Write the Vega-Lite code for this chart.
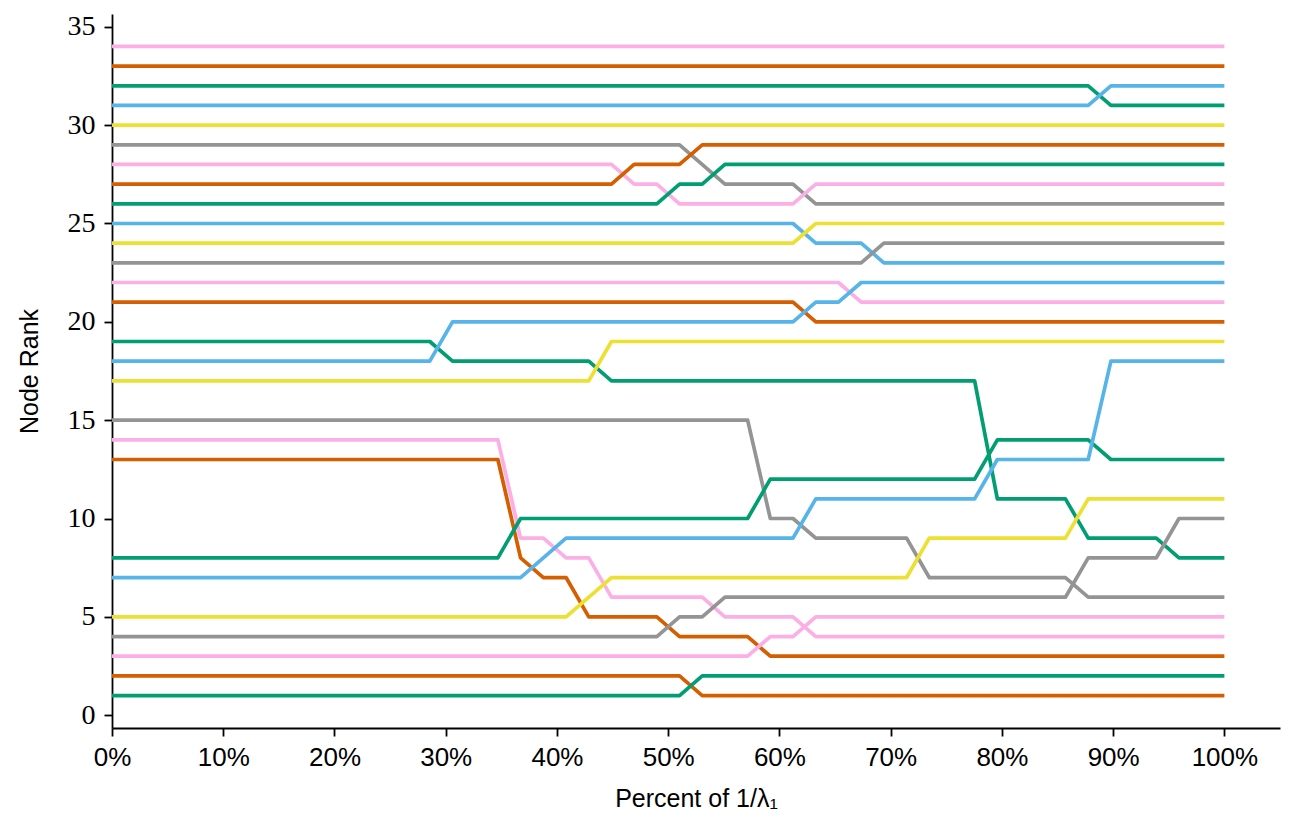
{
  "$schema": "https://vega.github.io/schema/vega-lite/v6.json",
  "width": 1168,
  "height": 714,
  "autosize": {"type": "none"},
  "padding": {"left": 112, "top": 14, "right": 18, "bottom": 94},
  "background": "white",
  "config": {"view": {"stroke": null}},
  "data": {"values": [
    {"node": "34", "x": 0, "rank": 34}, {"node": "34", "x": 1, "rank": 34},
    {"node": "33", "x": 0, "rank": 33}, {"node": "33", "x": 1, "rank": 33},
    {"node": "32", "x": 0, "rank": 32}, {"node": "32", "x": 0.8776, "rank": 32}, {"node": "32", "x": 0.8980, "rank": 31}, {"node": "32", "x": 1, "rank": 31},
    {"node": "31", "x": 0, "rank": 31}, {"node": "31", "x": 0.8776, "rank": 31}, {"node": "31", "x": 0.8980, "rank": 32}, {"node": "31", "x": 1, "rank": 32},
    {"node": "30", "x": 0, "rank": 30}, {"node": "30", "x": 1, "rank": 30},
    {"node": "29", "x": 0, "rank": 29}, {"node": "29", "x": 0.5102, "rank": 29}, {"node": "29", "x": 0.5510, "rank": 27}, {"node": "29", "x": 0.6122, "rank": 27}, {"node": "29", "x": 0.6327, "rank": 26}, {"node": "29", "x": 1, "rank": 26},
    {"node": "28", "x": 0, "rank": 28}, {"node": "28", "x": 0.4490, "rank": 28}, {"node": "28", "x": 0.4694, "rank": 27}, {"node": "28", "x": 0.4898, "rank": 27}, {"node": "28", "x": 0.5102, "rank": 26}, {"node": "28", "x": 0.6122, "rank": 26}, {"node": "28", "x": 0.6327, "rank": 27}, {"node": "28", "x": 1, "rank": 27},
    {"node": "27", "x": 0, "rank": 27}, {"node": "27", "x": 0.4490, "rank": 27}, {"node": "27", "x": 0.4694, "rank": 28}, {"node": "27", "x": 0.5102, "rank": 28}, {"node": "27", "x": 0.5306, "rank": 29}, {"node": "27", "x": 1, "rank": 29},
    {"node": "26", "x": 0, "rank": 26}, {"node": "26", "x": 0.4898, "rank": 26}, {"node": "26", "x": 0.5102, "rank": 27}, {"node": "26", "x": 0.5306, "rank": 27}, {"node": "26", "x": 0.5510, "rank": 28}, {"node": "26", "x": 1, "rank": 28},
    {"node": "25", "x": 0, "rank": 25}, {"node": "25", "x": 0.6122, "rank": 25}, {"node": "25", "x": 0.6327, "rank": 24}, {"node": "25", "x": 0.6735, "rank": 24}, {"node": "25", "x": 0.6939, "rank": 23}, {"node": "25", "x": 1, "rank": 23},
    {"node": "24", "x": 0, "rank": 24}, {"node": "24", "x": 0.6122, "rank": 24}, {"node": "24", "x": 0.6327, "rank": 25}, {"node": "24", "x": 1, "rank": 25},
    {"node": "23", "x": 0, "rank": 23}, {"node": "23", "x": 0.6735, "rank": 23}, {"node": "23", "x": 0.6939, "rank": 24}, {"node": "23", "x": 1, "rank": 24},
    {"node": "22", "x": 0, "rank": 22}, {"node": "22", "x": 0.6531, "rank": 22}, {"node": "22", "x": 0.6735, "rank": 21}, {"node": "22", "x": 1, "rank": 21},
    {"node": "21", "x": 0, "rank": 21}, {"node": "21", "x": 0.6122, "rank": 21}, {"node": "21", "x": 0.6327, "rank": 20}, {"node": "21", "x": 1, "rank": 20},
    {"node": "19", "x": 0, "rank": 19}, {"node": "19", "x": 0.2857, "rank": 19}, {"node": "19", "x": 0.3061, "rank": 18}, {"node": "19", "x": 0.4286, "rank": 18}, {"node": "19", "x": 0.4490, "rank": 17}, {"node": "19", "x": 0.7755, "rank": 17}, {"node": "19", "x": 0.7959, "rank": 11}, {"node": "19", "x": 0.8571, "rank": 11}, {"node": "19", "x": 0.8776, "rank": 9}, {"node": "19", "x": 0.9388, "rank": 9}, {"node": "19", "x": 0.9592, "rank": 8}, {"node": "19", "x": 1, "rank": 8},
    {"node": "18", "x": 0, "rank": 18}, {"node": "18", "x": 0.2857, "rank": 18}, {"node": "18", "x": 0.3061, "rank": 20}, {"node": "18", "x": 0.6122, "rank": 20}, {"node": "18", "x": 0.6327, "rank": 21}, {"node": "18", "x": 0.6531, "rank": 21}, {"node": "18", "x": 0.6735, "rank": 22}, {"node": "18", "x": 1, "rank": 22},
    {"node": "17", "x": 0, "rank": 17}, {"node": "17", "x": 0.4286, "rank": 17}, {"node": "17", "x": 0.4490, "rank": 19}, {"node": "17", "x": 1, "rank": 19},
    {"node": "15", "x": 0, "rank": 15}, {"node": "15", "x": 0.5714, "rank": 15}, {"node": "15", "x": 0.5918, "rank": 10}, {"node": "15", "x": 0.6122, "rank": 10}, {"node": "15", "x": 0.6327, "rank": 9}, {"node": "15", "x": 0.7143, "rank": 9}, {"node": "15", "x": 0.7347, "rank": 7}, {"node": "15", "x": 0.8571, "rank": 7}, {"node": "15", "x": 0.8776, "rank": 6}, {"node": "15", "x": 1, "rank": 6},
    {"node": "14", "x": 0, "rank": 14}, {"node": "14", "x": 0.3469, "rank": 14}, {"node": "14", "x": 0.3673, "rank": 9}, {"node": "14", "x": 0.3878, "rank": 9}, {"node": "14", "x": 0.4082, "rank": 8}, {"node": "14", "x": 0.4286, "rank": 8}, {"node": "14", "x": 0.4490, "rank": 6}, {"node": "14", "x": 0.5306, "rank": 6}, {"node": "14", "x": 0.5510, "rank": 5}, {"node": "14", "x": 0.6122, "rank": 5}, {"node": "14", "x": 0.6327, "rank": 4}, {"node": "14", "x": 1, "rank": 4},
    {"node": "13", "x": 0, "rank": 13}, {"node": "13", "x": 0.3469, "rank": 13}, {"node": "13", "x": 0.3673, "rank": 8}, {"node": "13", "x": 0.3878, "rank": 7}, {"node": "13", "x": 0.4082, "rank": 7}, {"node": "13", "x": 0.4286, "rank": 5}, {"node": "13", "x": 0.4898, "rank": 5}, {"node": "13", "x": 0.5102, "rank": 4}, {"node": "13", "x": 0.5714, "rank": 4}, {"node": "13", "x": 0.5918, "rank": 3}, {"node": "13", "x": 1, "rank": 3},
    {"node": "8", "x": 0, "rank": 8}, {"node": "8", "x": 0.3469, "rank": 8}, {"node": "8", "x": 0.3673, "rank": 10}, {"node": "8", "x": 0.5714, "rank": 10}, {"node": "8", "x": 0.5918, "rank": 12}, {"node": "8", "x": 0.7755, "rank": 12}, {"node": "8", "x": 0.7959, "rank": 14}, {"node": "8", "x": 0.8776, "rank": 14}, {"node": "8", "x": 0.8980, "rank": 13}, {"node": "8", "x": 1, "rank": 13},
    {"node": "7", "x": 0, "rank": 7}, {"node": "7", "x": 0.3673, "rank": 7}, {"node": "7", "x": 0.4082, "rank": 9}, {"node": "7", "x": 0.6122, "rank": 9}, {"node": "7", "x": 0.6327, "rank": 11}, {"node": "7", "x": 0.7755, "rank": 11}, {"node": "7", "x": 0.7959, "rank": 13}, {"node": "7", "x": 0.8776, "rank": 13}, {"node": "7", "x": 0.8980, "rank": 18}, {"node": "7", "x": 1, "rank": 18},
    {"node": "5", "x": 0, "rank": 5}, {"node": "5", "x": 0.4082, "rank": 5}, {"node": "5", "x": 0.4490, "rank": 7}, {"node": "5", "x": 0.7143, "rank": 7}, {"node": "5", "x": 0.7347, "rank": 9}, {"node": "5", "x": 0.8571, "rank": 9}, {"node": "5", "x": 0.8776, "rank": 11}, {"node": "5", "x": 1, "rank": 11},
    {"node": "4", "x": 0, "rank": 4}, {"node": "4", "x": 0.4898, "rank": 4}, {"node": "4", "x": 0.5102, "rank": 5}, {"node": "4", "x": 0.5306, "rank": 5}, {"node": "4", "x": 0.5510, "rank": 6}, {"node": "4", "x": 0.8571, "rank": 6}, {"node": "4", "x": 0.8776, "rank": 8}, {"node": "4", "x": 0.9388, "rank": 8}, {"node": "4", "x": 0.9592, "rank": 10}, {"node": "4", "x": 1, "rank": 10},
    {"node": "3", "x": 0, "rank": 3}, {"node": "3", "x": 0.5714, "rank": 3}, {"node": "3", "x": 0.5918, "rank": 4}, {"node": "3", "x": 0.6122, "rank": 4}, {"node": "3", "x": 0.6327, "rank": 5}, {"node": "3", "x": 1, "rank": 5},
    {"node": "2", "x": 0, "rank": 2}, {"node": "2", "x": 0.5102, "rank": 2}, {"node": "2", "x": 0.5306, "rank": 1}, {"node": "2", "x": 1, "rank": 1},
    {"node": "1", "x": 0, "rank": 1}, {"node": "1", "x": 0.5102, "rank": 1}, {"node": "1", "x": 0.5306, "rank": 2}, {"node": "1", "x": 1, "rank": 2}
  ]},
  "mark": {"type": "line", "strokeWidth": 3.7, "strokeCap": "butt", "strokeJoin": "round", "clip": true},
  "encoding": {
    "x": {
      "field": "x", "type": "quantitative",
      "scale": {"domain": [0, 1.05], "nice": false, "zero": false},
      "axis": {
        "values": [0, 0.1, 0.2, 0.3, 0.4, 0.5, 0.6, 0.7, 0.8, 0.9, 1.0],
        "format": ".0%",
        "grid": false,
        "labelFlush": false,
        "domainColor": "black", "domainWidth": 1.8,
        "tickColor": "black", "tickWidth": 1.8, "tickSize": 8,
        "labelFont": "Liberation Sans", "labelFontSize": 26, "labelColor": "black", "labelPadding": 8,
        "title": "Percent of 1/λ₁",
        "titleFont": "Liberation Sans", "titleFontSize": 25, "titleFontWeight": "normal", "titleColor": "black", "titlePadding": 16
      }
    },
    "y": {
      "field": "rank", "type": "quantitative",
      "scale": {"domain": [-0.65, 35.65], "nice": false, "zero": false},
      "axis": {
        "values": [0, 5, 10, 15, 20, 25, 30, 35],
        "grid": false,
        "labelFlush": false,
        "domainColor": "black", "domainWidth": 1.8,
        "tickColor": "black", "tickWidth": 1.8, "tickSize": 8,
        "labelFont": "Liberation Serif", "labelFontSize": 28, "labelColor": "black", "labelPadding": 9,
        "title": "Node Rank",
        "titleFont": "Liberation Sans", "titleFontSize": 25, "titleFontWeight": "normal", "titleColor": "black", "titlePadding": 25
      }
    },
    "color": {
      "field": "node", "type": "nominal",
      "scale": {
        "domain": ["1", "2", "3", "4", "5", "7", "8", "13", "14", "15", "17", "18", "19", "21", "22", "23", "24", "25", "26", "27", "28", "29", "30", "31", "32", "33", "34"],
        "range": ["#029e73", "#d55e00", "#fbafe4", "#949494", "#ece133", "#56b4e9", "#029e73", "#d55e00", "#fbafe4", "#949494", "#ece133", "#56b4e9", "#029e73", "#d55e00", "#fbafe4", "#949494", "#ece133", "#56b4e9", "#029e73", "#d55e00", "#fbafe4", "#949494", "#ece133", "#56b4e9", "#029e73", "#d55e00", "#fbafe4"]
      },
      "legend": null
    }
  }
}
